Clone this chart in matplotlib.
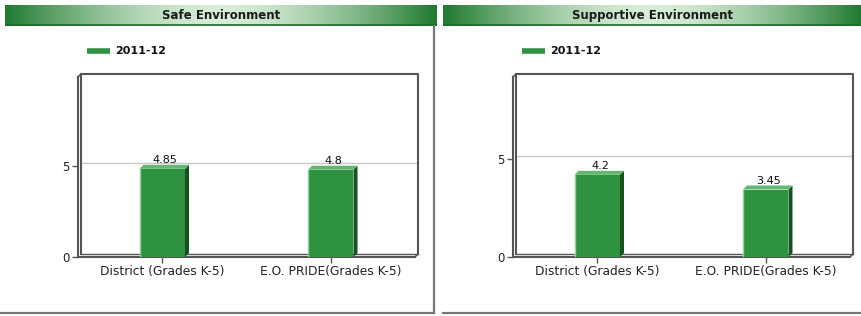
import numpy as np
import matplotlib
matplotlib.use('Agg')
import matplotlib.pyplot as plt
from matplotlib.patches import Polygon
from matplotlib.transforms import offset_copy
from matplotlib.colors import to_rgb

# data
categories = ['District (Grades K-5)', 'E.O. PRIDE(Grades K-5)']
safe_values = [4.85, 4.8]
supportive_values = [4.2, 3.45]
panel_titles = ['Safe Environment', 'Supportive Environment']
series_name = '2011-12'
yticks = [0, 5]

W, H = 862, 316
plt.rcParams['font.family'] = ['DejaVu Sans']

fig = plt.figure(figsize=(W / 100, H / 100), dpi=100)

front = '#2e9241'
side = '#15521f'
top = '#63b870'
frame = '#555555'


def header(x0, x1, title):
    ax = fig.add_axes([x0 / W, 1 - 26 / H, (x1 - x0) / W, 21 / H])
    u = np.linspace(0, 1, 300)
    t = np.abs(2 * u - 1) ** 1.6
    dark = np.array(to_rgb('#1f7a2f'))
    light = np.array(to_rgb('#d8eed8'))
    grad = light[None, :] + (dark - light)[None, :] * t[:, None]
    ax.imshow(grad[None, :, :], aspect='auto', extent=[0, 1, 0, 1])
    ax.set_xlim(0, 1)
    ax.set_ylim(0, 1)
    ax.axis('off')
    # dark bottom edge
    ax.axhline(0.03, color='#1d6a29', lw=1.2)
    ax.text(0.5, 0.5, title, ha='center', va='center', fontsize=8.5,
            fontweight='bold', color='#1a1a1a')


def panel(x_left, x_right, ymax, values, title, hx0, hx1, lx):
    header(hx0, hx1, title)
    bottom_px, top_px = 257, 77
    ax = fig.add_axes([x_left / W, 1 - bottom_px / H, (x_right - x_left) / W,
                       (bottom_px - top_px) / H])
    ax.set_xlim(-0.5, 1.5)
    ax.set_ylim(0, ymax)
    for s in ax.spines.values():
        s.set_visible(False)
    ax.set_facecolor('none')

    back = offset_copy(ax.transAxes, fig=fig, x=3, y=3, units='dots')
    backy = offset_copy(ax.get_yaxis_transform(), fig=fig, x=3, y=3, units='dots')

    # gridline on back wall
    ax.plot([0, 1], [5, 5], color='#c8c8c8', lw=1, transform=backy, zorder=1,
            clip_on=False)

    # back wall box
    ax.plot([0, 0, 1, 1], [0, 1, 1, 0], color=frame, lw=1.5, transform=back,
            zorder=2, solid_joinstyle='round', clip_on=False)
    ax.plot([0, 1], [0, 0], color=frame, lw=1, transform=back, zorder=2,
            clip_on=False)
    # front axis lines
    ax.plot([0, 0], [0, 1], color=frame, lw=1.5, transform=ax.transAxes, zorder=2,
            clip_on=False)
    ax.plot([0, 1], [0, 0], color=frame, lw=1.5, transform=ax.transAxes, zorder=2,
            clip_on=False)
    # diagonals
    bb = ax.get_position()
    dxa = 3 / (bb.width * W)
    dya = 3 / (bb.height * H)
    ax.plot([0, dxa], [1, 1 + dya], color=frame, lw=1.2, transform=ax.transAxes,
            clip_on=False)
    ax.plot([1, 1 + dxa], [0, dya], color=frame, lw=1.2, transform=ax.transAxes,
            clip_on=False)

    # 3d bars
    x = np.arange(len(values))
    bw = 0.27
    ddx = 4 / (bb.width * W) * 2.0
    ddy = 4 / (bb.height * H) * ymax
    for xi, v in zip(x, values):
        l, r = xi - bw / 2, xi + bw / 2
        ax.add_patch(Polygon([[r, 0], [r + ddx, ddy], [r + ddx, v + ddy], [r, v]],
                             closed=True, color=side, zorder=3, lw=0))
        ax.add_patch(Polygon([[l, v], [l + ddx, v + ddy], [r + ddx, v + ddy], [r, v]],
                             closed=True, color=top, zorder=3, lw=0))
        ax.bar(xi, v, width=bw, color=front, zorder=4, lw=0)
        ax.plot([l, l], [0, v], color='#8fd29b', lw=1, zorder=5)
        ax.annotate(f'{v:g}', (xi, v + ddy), xytext=(2, 0), textcoords='offset points',
                    ha='center', va='bottom', fontsize=8, color='#111111')

    ax.set_xticks(x)
    ax.set_xticklabels(categories, fontsize=8.8, color='#222222')
    ax.set_yticks(yticks)
    ax.set_yticklabels([str(t) for t in yticks], fontsize=8.5, color='#222222')
    ax.tick_params(axis='both', length=4, width=1, color=frame, pad=2)

    # legend
    fig.add_artist(plt.Line2D([lx / W, (lx + 23) / W], [1 - 51 / H, 1 - 51 / H],
                              color=front, lw=4, solid_capstyle='butt'))
    fig.text((lx + 28) / W, 1 - 51 / H, series_name, fontsize=8, fontweight='bold',
             va='center', ha='left', color='#111111')
    return ax


panel(78, 415, 9.9, safe_values, panel_titles[0], 5, 437, 87)
panel(513, 850, 9.2, supportive_values, panel_titles[1], 443, 862, 522)

# panel borders
fig.add_artist(plt.Line2D([434 / W, 434 / W], [1 - 26 / H, 1 - 313 / H],
                          color='#777777', lw=1.6))
fig.add_artist(plt.Line2D([0, 434 / W], [1 - 313 / H, 1 - 313 / H],
                          color='#777777', lw=1.6))
fig.add_artist(plt.Line2D([443 / W, 1], [1 - 313 / H, 1 - 313 / H],
                          color='#777777', lw=1.6))

fig.savefig('out.png', dpi=100)
